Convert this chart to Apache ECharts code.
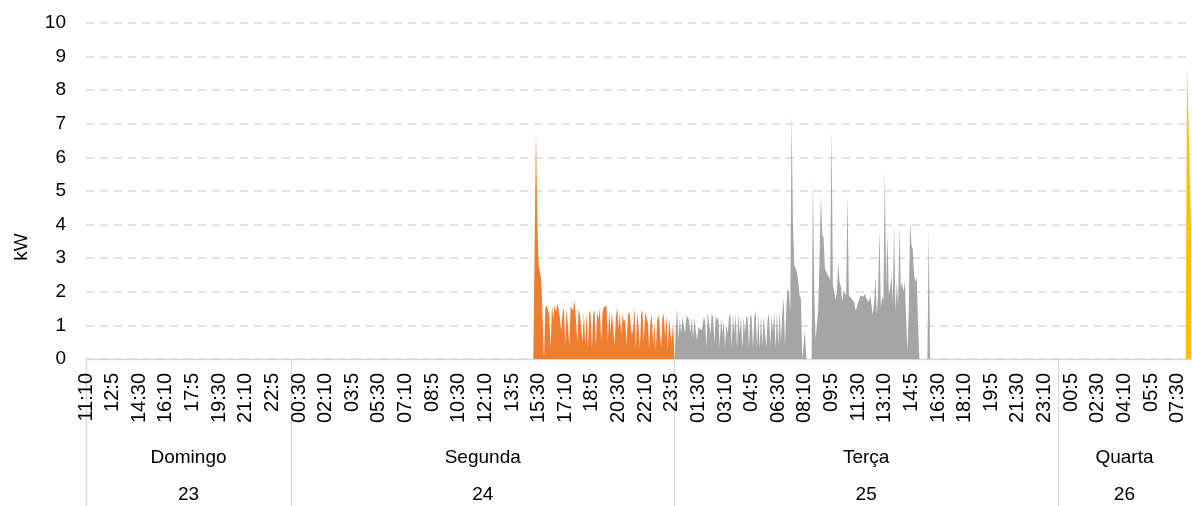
<!DOCTYPE html>
<html>
<head>
<meta charset="utf-8">
<script src="https://cdn.jsdelivr.net/npm/echarts@6/dist/echarts.min.js"></script>
<style>
  html, body { margin: 0; padding: 0; background: #ffffff; }
  #chart { width: 1192px; height: 506px; }
</style>
</head>
<body>
<div id="chart"></div>
<script>
// Days covered by the readings (second level of the category axis)
const dayNames = ['Domingo', 'Segunda', 'Terça', 'Quarta'];
const dayNumbers = ['23', '24', '25', '26'];

// Reading window: 5-minute samples from day 23 11:10 to day 26 08:20
const firstSlot = '11:10';
const lastSlot = '08:20';
const stepMinutes = 5;

// Time labels printed every 20 samples (100 minutes)
const timeTickLabels = [
  '11:10', '12:5', '14:30', '16:10', '17:5', '19:30', '21:10', '22:5',
  '00:30', '02:10', '03:5', '05:30', '07:10', '08:5', '10:30', '12:10', '13:5',
  '15:30', '17:10', '18:5', '20:30', '22:10', '23:5',
  '01:30', '03:10', '04:5', '06:30', '08:10', '09:5', '11:30', '13:10', '14:5',
  '16:30', '18:10', '19:5', '21:30', '23:10',
  '00:5', '02:30', '04:10', '05:5', '07:30'
];

// Power readings (kW), one series per day; each list starts at the given time
const domingoStart = '11:10';
const domingoKw = [0];

const segundaStart = '15:15';
const segundaKw = [
  0, 6.8, 4.0, 2.8, 2.6, 2.3, 1.2, 0, 1.5, 1.6,
  1.55, 1.3, 0.3, 1.6, 1.2, 1.6, 1.4, 1.65, 1.5, 1.2,
  0.8, 1.4, 1.5, 0.4, 1.55, 1.5, 0.4, 1.55, 1.6, 1.45,
  1.75, 1.2, 0.5, 1.5, 1.3, 1.35, 0.5, 1.4, 0.4, 1.4,
  0.3, 1.45, 1.35, 0.3, 1.35, 1.45, 0.4, 1.4, 1.2, 1.5,
  0.5, 1.4, 1.55, 1.5, 1.58, 0.5, 1.45, 0.8, 1.4, 1.45,
  0.4, 1.25, 1.55, 0.9, 1.4, 0.7, 1.35, 1.1, 1.2, 0.4,
  1.3, 1.4, 1.1, 0.7, 0.9, 1.55, 0.3, 1.4, 1.0, 0.3,
  1.35, 1.45, 0.5, 1.4, 1.4, 1.1, 0.3, 1.1, 1.35, 0.4,
  1.1, 0.25, 1.15, 1.3, 0.9, 0.35, 1.2, 1.35, 0.6, 1.3,
  0.3, 1.2, 0.8, 0.5, 1.15
];

const tercaStart = '00:00';
const tercaKw = [
  0, 0.9, 1.5, 0.6, 1.2, 0.75, 1.25, 1.2, 0.75, 1.3,
  1.35, 1.15, 0.75, 1.25, 0.6, 1.25, 0.85, 0.55, 0.95, 0.95,
  0.85, 0.95, 1.25, 1.15, 0.35, 1.4, 1.35, 0.75, 1.35, 1.25,
  0.45, 1.3, 1.15, 1.25, 0.35, 1.25, 0.75, 1.15, 0.35, 1.05,
  0.75, 1.25, 1.35, 0.35, 1.35, 0.75, 1.35, 0.3, 1.35, 0.75,
  1.25, 0.3, 1.25, 0.75, 1.3, 1.2, 0.35, 1.35, 1.25, 0.3,
  1.25, 1.45, 0.3, 1.35, 0.3, 1.3, 0.4, 1.25, 1.3, 0.35,
  1.2, 1.35, 0.4, 1.3, 0.8, 1.4, 0.3, 1.45, 0.4, 1.45,
  0.5, 1.4, 1.8, 0.4, 1.5, 2.1, 2.0, 1.4, 7.3, 4.0,
  2.8, 2.7, 2.6, 2.3, 1.9, 1.8, 0, 0, 0.85, 0,
  0, 0, 0, 0, 5.4, 2.0, 0.6, 1.0, 1.5, 3.0,
  4.9, 3.7, 3.6, 2.7, 2.6, 2.55, 2.45, 2.35, 6.9, 2.2,
  2.0, 1.75, 2.0, 2.85, 2.3, 2.15, 1.7, 2.0, 1.95, 1.9,
  4.9, 1.9, 1.95, 1.8, 1.75, 1.7, 1.45, 1.55, 1.7, 1.8,
  1.9, 1.95, 1.85, 1.95, 1.8, 1.75, 1.7, 1.9, 1.95, 1.3,
  1.7, 2.45, 1.3, 2.0, 3.9, 1.5, 1.85, 1.75, 5.6, 2.1,
  3.7, 1.9, 2.1, 2.5, 1.7, 4.0, 1.4, 2.3, 1.6, 3.95,
  2.1, 2.3, 2.0, 2.3, 2.3, 0.2, 1.5, 4.1, 3.4, 3.25,
  2.5, 2.3, 2.45, 1.0, 0, 0, 0, 0, 0, 0,
  0, 3.85, 0
];

const quartaStart = '08:00';
const quartaKw = [0, 8.7, 7.3, 5.6, 4.0];

const seriesColors = ['#4472C4', '#ED7D31', '#A5A5A5', '#FFC000'];
const fontFamily = '"Liberation Sans", Arial, sans-serif';

// Build the 5-minute category list across the four days
function toMinutes(t) { const p = t.split(':'); return +p[0] * 60 + +p[1]; }
function pad(n) { return (n < 10 ? '0' : '') + n; }

const categories = [];
const dayOfIndex = [];
const dayFirstIndex = [];
for (let d = 0; d < dayNames.length; d++) {
  const from = d === 0 ? toMinutes(firstSlot) : 0;
  const to = d === dayNames.length - 1 ? toMinutes(lastSlot) : 24 * 60 - stepMinutes;
  dayFirstIndex.push(categories.length);
  for (let m = from; m <= to; m += stepMinutes) {
    categories.push(dayNumbers[d] + ' ' + pad(Math.floor(m / 60)) + ':' + pad(m % 60));
    dayOfIndex.push(d);
  }
}
const dayCenterIndex = dayFirstIndex.map((first, d) => {
  const last = d + 1 < dayFirstIndex.length ? dayFirstIndex[d + 1] : categories.length - 1;
  return Math.round((first + last) / 2);
});
const categoryIndex = {};
categories.forEach((c, i) => { categoryIndex[c] = i; });

// Place a day's readings on the shared axis, zero outside that day's list
function daySeries(d, start, values) {
  const data = new Array(categories.length).fill(0);
  const at = categoryIndex[dayNumbers[d] + ' ' + start];
  values.forEach((v, k) => { data[at + k] = v; });
  return data;
}

const dayData = [
  daySeries(0, domingoStart, domingoKw),
  daySeries(1, segundaStart, segundaKw),
  daySeries(2, tercaStart, tercaKw),
  daySeries(3, quartaStart, quartaKw)
];

const chart = echarts.init(document.getElementById('chart'), null, { renderer: 'canvas', devicePixelRatio: 1 });

const textColor = '#000000';
const ruleColor = '#D9D9D9';

chart.setOption({
  animation: false,
  backgroundColor: '#ffffff',
  textStyle: { fontFamily: fontFamily },
  grid: { left: 86, right: 1, top: 23, bottom: 147 },
  graphic: [{
    type: 'text',
    x: 22,
    y: 247,
    rotation: Math.PI / 2,
    style: {
      text: 'kW',
      fill: textColor,
      font: '19px ' + fontFamily,
      align: 'center',
      verticalAlign: 'middle'
    }
  }],
  xAxis: [
    {
      type: 'category',
      data: categories,
      boundaryGap: false,
      axisLine: { lineStyle: { color: ruleColor, width: 1.3 } },
      axisTick: {
        show: true,
        interval: (i) => dayFirstIndex.indexOf(i) >= 0,
        length: 147,
        lineStyle: { color: ruleColor, width: 1.3 }
      },
      axisLabel: {
        interval: 19,
        rotate: 90,
        margin: 14,
        fontSize: 20,
        color: textColor,
        fontFamily: fontFamily,
        formatter: (v) => timeTickLabels[categoryIndex[v] / 20]
      },
      splitLine: { show: false }
    },
    {
      type: 'category',
      data: categories,
      boundaryGap: false,
      position: 'bottom',
      offset: 81,
      axisLine: { show: false },
      axisTick: { show: false },
      splitLine: { show: false },
      axisLabel: {
        interval: (i) => dayCenterIndex.indexOf(i) >= 0,
        margin: 8,
        fontSize: 19,
        color: textColor,
        fontFamily: fontFamily,
        formatter: (v) => dayNames[dayOfIndex[categoryIndex[v]]]
      }
    },
    {
      type: 'category',
      data: categories,
      boundaryGap: false,
      position: 'bottom',
      offset: 118,
      axisLine: { show: false },
      axisTick: { show: false },
      splitLine: { show: false },
      axisLabel: {
        interval: (i) => dayCenterIndex.indexOf(i) >= 0,
        margin: 8,
        fontSize: 19,
        color: textColor,
        fontFamily: fontFamily,
        formatter: (v) => dayNumbers[dayOfIndex[categoryIndex[v]]]
      }
    }
  ],
  yAxis: {
    type: 'value',
    min: 0,
    max: 10,
    interval: 1,
    axisLine: { show: false },
    axisTick: { show: false },
    axisLabel: { fontSize: 19, color: textColor, margin: 20, fontFamily: fontFamily },
    splitLine: { lineStyle: { color: ruleColor, type: [8, 6], width: 1.5 } }
  },
  series: dayNames.map((name, d) => ({
    name: name,
    type: 'line',
    xAxisIndex: 0,
    data: dayData[d],
    symbol: 'none',
    showSymbol: false,
    lineStyle: { width: 0 },
    areaStyle: { color: seriesColors[d], opacity: 1 },
    itemStyle: { color: seriesColors[d] }
  }))
});
</script>
</body>
</html>
